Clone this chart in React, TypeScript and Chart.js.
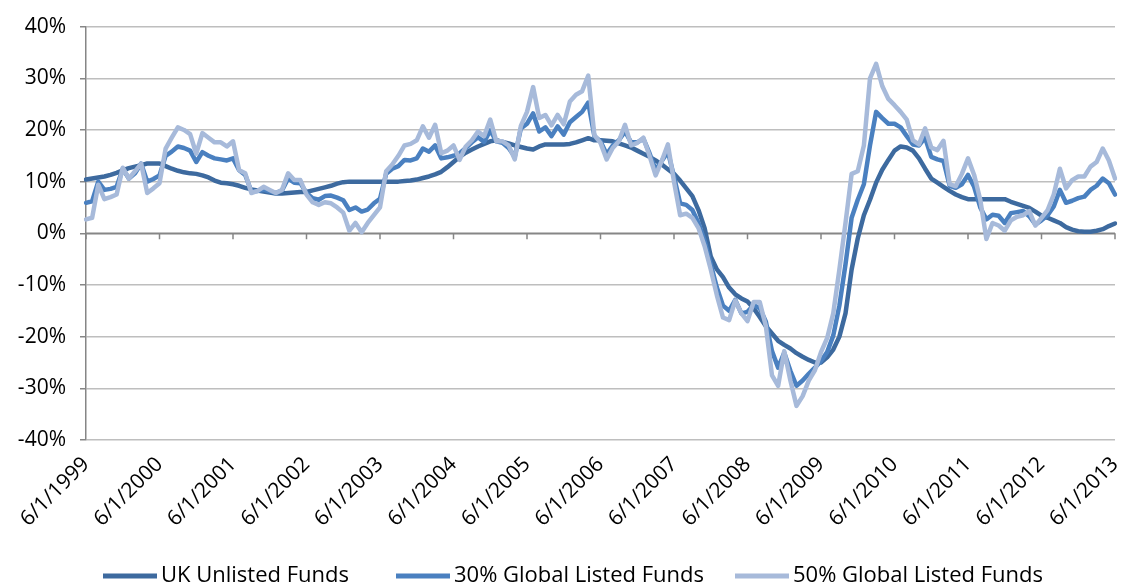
import React, { useEffect, useRef } from 'react';
import { Chart, registerables } from 'chart.js';

Chart.register(...registerables);

// ---- Data (monthly, Jun 1999 .. Jun 2013), values in % ----
const START_YEAR = 1999;
const START_MONTH = 6;
const MONTH_COUNT = 169;

const months: string[] = [];
for (let i = 0; i < MONTH_COUNT; i++) {
  const m = ((START_MONTH - 1 + i) % 12) + 1;
  const y = START_YEAR + Math.floor((START_MONTH - 1 + i) / 12);
  months.push(`${m}/1/${y}`);
}

const xTickLabels = [
  '6/1/1999', '6/1/2000', '6/1/2001', '6/1/2002', '6/1/2003', '6/1/2004', '6/1/2005',
  '6/1/2006', '6/1/2007', '6/1/2008', '6/1/2009', '6/1/2010', '6/1/2011', '6/1/2012', '6/1/2013',
];

const seriesNames = ['UK Unlisted Funds', '30% Global Listed Funds', '50% Global Listed Funds'];

const ukUnlisted = [
  10.4, 10.6, 10.8, 11.0, 11.3, 11.7, 12.2, 12.6, 12.9, 13.2, 13.5, 13.5, 13.5,
  13.0, 12.5, 12.1, 11.8, 11.6, 11.5, 11.2, 10.8, 10.2, 9.8, 9.7, 9.5,
  9.2, 8.8, 8.5, 8.3, 8.1, 7.9, 7.7, 7.7, 7.8, 7.9, 8.0, 8.0,
  8.3, 8.6, 8.9, 9.2, 9.6, 9.9, 10.0, 10.0, 10.0, 10.0, 10.0, 10.0,
  10.0, 10.0, 10.0, 10.1, 10.2, 10.4, 10.7, 11.0, 11.4, 11.9, 12.8, 13.8,
  14.8, 15.6, 16.2, 16.8, 17.3, 17.8, 18.0, 17.7, 17.4, 17.0, 16.7, 16.4,
  16.2, 16.8, 17.2, 17.2, 17.2, 17.2, 17.3, 17.6, 18.0, 18.4, 18.0, 18.0,
  17.9, 17.8, 17.4, 17.0, 16.6, 16.0, 15.4, 14.8, 14.1, 13.3, 12.4, 11.5,
  10.2, 8.7, 7.2, 4.5, 1.0, -4.5, -7.0, -8.5, -10.5, -11.8, -12.6, -13.2,
  -14.5, -16.2, -18.0, -19.4, -20.8, -21.6, -22.3, -23.2, -23.9, -24.5, -25.0, -25.0,
  -24.0, -22.5, -20.0, -15.5, -7.0, -1.0, 3.5, 6.5, 9.8, 12.3, 14.2, 16.0,
  16.8, 16.6, 16.0, 14.5, 12.5, 10.6, 9.8, 9.0, 8.2, 7.5, 7.0, 6.6,
  6.6, 6.6, 6.6, 6.6, 6.6, 6.6, 6.1, 5.7, 5.3, 4.9, 4.2, 3.4,
  3.0, 2.5, 2.0, 1.2, 0.7, 0.4, 0.3, 0.3, 0.5, 0.8, 1.4, 1.9,
];

const global30 = [
  5.9, 6.2, 10.0, 8.4, 8.6, 9.0, 12.5, 10.6, 11.6, 13.5, 10.0, 10.5, 11.2,
  15.0, 15.8, 16.8, 16.5, 16.0, 13.8, 15.7, 15.0, 14.5, 14.3, 14.1, 14.5,
  12.2, 11.3, 8.1, 8.2, 8.4, 8.1, 7.8, 8.3, 10.6, 9.8, 9.7, 7.8,
  6.8, 6.5, 7.2, 7.3, 6.9, 6.4, 4.5, 5.0, 4.2, 4.6, 5.8, 6.7,
  11.5, 12.5, 13.0, 14.2, 14.1, 14.5, 16.4, 15.8, 17.0, 14.5, 14.7, 15.0,
  15.5, 16.5, 17.6, 18.6, 17.7, 19.9, 17.8, 17.5, 16.5, 14.8, 20.3, 21.2,
  23.2, 19.7, 20.5, 18.8, 20.7, 19.1, 21.5, 22.5, 23.5, 25.3, 18.8, 17.8,
  15.3, 17.0, 18.0, 19.7, 17.6, 17.6, 18.3, 15.5, 12.3, 14.0, 15.8, 11.0,
  5.8, 5.5, 4.5, 2.0, -1.5, -6.0, -10.5, -14.0, -15.0, -12.9, -15.5, -15.2,
  -13.9, -14.5, -17.1, -22.8, -26.0, -23.1, -26.6, -29.5, -28.5, -27.2, -26.0, -24.7,
  -23.0, -19.8, -14.0, -6.0, 3.0, 6.5, 9.5, 17.0, 23.5, 22.3, 21.2, 21.2,
  20.5, 18.8, 17.2, 17.0, 18.5, 14.8, 14.3, 14.0, 9.2, 8.8, 9.5, 11.3,
  9.0, 5.0, 2.7, 3.6, 3.4, 2.0, 3.9, 4.1, 4.3, 3.3, 1.7, 2.5,
  3.5, 5.2, 8.4, 5.9, 6.3, 6.8, 7.1, 8.4, 9.2, 10.6, 9.7, 7.5,
];

const global50 = [
  2.7, 3.0, 9.4, 6.6, 7.0, 7.5, 12.7, 10.6, 12.0, 13.5, 7.8, 8.7, 9.7,
  16.4, 18.5, 20.5, 20.0, 19.2, 15.4, 19.4, 18.5, 17.6, 17.6, 16.8, 17.8,
  12.2, 11.6, 7.8, 8.2, 9.0, 8.4, 7.8, 8.4, 11.6, 10.3, 10.3, 7.5,
  6.0, 5.5, 6.0, 5.8, 5.0, 4.0, 0.5, 2.0, 0.2, 2.0, 3.5, 5.0,
  12.0, 13.3, 15.0, 17.0, 17.3, 18.0, 20.7, 18.5, 21.0, 15.5, 16.0, 17.0,
  14.2, 16.8, 18.0, 19.7, 18.8, 22.0, 17.8, 17.8, 17.0, 14.3, 20.8, 23.5,
  28.3, 22.3, 22.9, 20.9, 22.9, 21.1, 25.5, 26.8, 27.5, 30.5, 19.0, 17.5,
  14.3, 16.5, 17.8, 21.0, 17.0, 17.5, 18.5, 15.0, 11.2, 14.0, 17.2, 10.0,
  3.5, 3.8, 3.0, 1.0, -2.5, -7.0, -12.0, -16.3, -16.8, -13.0, -15.5, -17.0,
  -13.3, -13.3, -18.0, -27.5, -29.5, -22.8, -28.5, -33.4, -31.5, -28.5, -26.5, -23.0,
  -20.3, -15.5, -7.0, 2.0, 11.5, 12.0, 17.0, 30.0, 32.8, 28.5, 26.0, 24.8,
  23.5, 22.0, 18.0, 17.2, 20.3, 16.6, 16.1, 17.9, 9.5, 9.1, 11.5, 14.5,
  11.3, 6.5, -1.1, 2.0, 1.5, 0.5, 2.5, 3.2, 3.5, 4.3, 1.5, 3.0,
  4.5, 7.5, 12.5, 8.7, 10.3, 11.0, 11.0, 12.9, 13.8, 16.4, 14.1, 10.6,
];

const seriesColors = ['#3D6A9F', '#4A80C0', '#A7BADA'];

// ---- Layout constants ----
const FONT = '"Open Sans", "DejaVu Sans", sans-serif';
const LEGEND_Y = 576;
const LEGEND_X = [103, 396, 735];

const zeroAxisPlugin = {
  id: 'zeroAxis',
  beforeDatasetsDraw(chart: any) {
    const { ctx, chartArea, scales } = chart;
    const x = scales.x;
    const y = scales.y;
    const y0 = y.getPixelForValue(0);
    ctx.save();
    ctx.strokeStyle = '#868686';
    ctx.lineWidth = 1.5;
    ctx.beginPath();
    ctx.moveTo(chartArea.left, y0);
    ctx.lineTo(chartArea.right, y0);
    months.forEach((m, i) => {
      if (xTickLabels.includes(m)) {
        const px = x.getPixelForValue(i);
        ctx.moveTo(px, y0);
        ctx.lineTo(px, y0 + 6);
      }
    });
    ctx.stroke();
    ctx.restore();
  },
};

const legendPlugin = {
  id: 'customLegend',
  afterDraw(chart: any) {
    const { ctx } = chart;
    ctx.save();
    ctx.font = `22px ${FONT}`;
    ctx.textBaseline = 'middle';
    ctx.textAlign = 'left';
    chart.data.datasets.forEach((ds: any, i: number) => {
      const lx = LEGEND_X[i];
      ctx.strokeStyle = ds.borderColor;
      ctx.lineWidth = 5;
      ctx.lineCap = 'butt';
      ctx.beginPath();
      ctx.moveTo(lx, LEGEND_Y);
      ctx.lineTo(lx + 54, LEGEND_Y);
      ctx.stroke();
      ctx.fillStyle = '#000';
      ctx.fillText(ds.label, lx + 58, LEGEND_Y);
    });
    ctx.restore();
  },
};

export default function App() {
  const canvasRef = useRef<HTMLCanvasElement | null>(null);

  useEffect(() => {
    document.body.style.margin = '0';
    const canvas = canvasRef.current;
    if (!canvas) return;
    const seriesData = [ukUnlisted, global30, global50];
    const chart = new Chart(canvas, {
      type: 'line',
      data: {
        labels: months,
        datasets: seriesNames.map((name, i) => ({
          label: name,
          data: seriesData[i],
          borderColor: seriesColors[i],
          backgroundColor: seriesColors[i],
          borderWidth: 4.5,
          pointRadius: 0,
          pointHoverRadius: 0,
          tension: 0,
          fill: false,
          borderJoinStyle: 'round' as const,
          borderCapStyle: 'round' as const,
          order: 2 - i,
        })),
      },
      options: {
        responsive: false,
        animation: false,
        devicePixelRatio: 1,
        layout: { padding: { left: 0, right: 10, top: 21, bottom: 0 } },
        plugins: {
          legend: { display: false },
          tooltip: { enabled: false },
        },
        scales: {
          x: {
            type: 'category',
            offset: false,
            grid: { display: false, drawTicks: false },
            border: { display: false },
            ticks: {
              autoSkip: false,
              minRotation: 45,
              maxRotation: 45,
              padding: 12,
              color: '#000',
              font: { family: FONT, size: 21 },
              callback: (_v: any, index: number) =>
                xTickLabels.includes(months[index]) ? months[index] : null,
            },
            afterFit: (scale: any) => {
              scale.height = 146;
              scale.paddingRight = 0;
              scale.paddingLeft = 0;
            },
          },
          y: {
            min: -40,
            max: 40,
            grid: {
              color: (c: any) => (c.tick && c.tick.value === 0 ? '#868686' : '#BEBEBE'),
              lineWidth: 1.5,
              tickLength: 6,
              tickColor: '#868686',
              drawTicks: true,
            },
            border: { display: true, color: '#868686', width: 1.5 },
            ticks: {
              stepSize: 10,
              padding: 14,
              color: '#000',
              font: { family: FONT, size: 21 },
              callback: (v: any) => `${v}%`,
            },
            afterFit: (scale: any) => {
              scale.width = 86;
            },
          },
        },
      },
      plugins: [zeroAxisPlugin, legendPlugin],
    });
    return () => chart.destroy();
  }, []);

  return (
    <div style={{ position: 'absolute', left: 0, top: 0, width: 1125, height: 586, background: '#fff' }}>
      <canvas ref={canvasRef} width={1125} height={586} />
    </div>
  );
}
